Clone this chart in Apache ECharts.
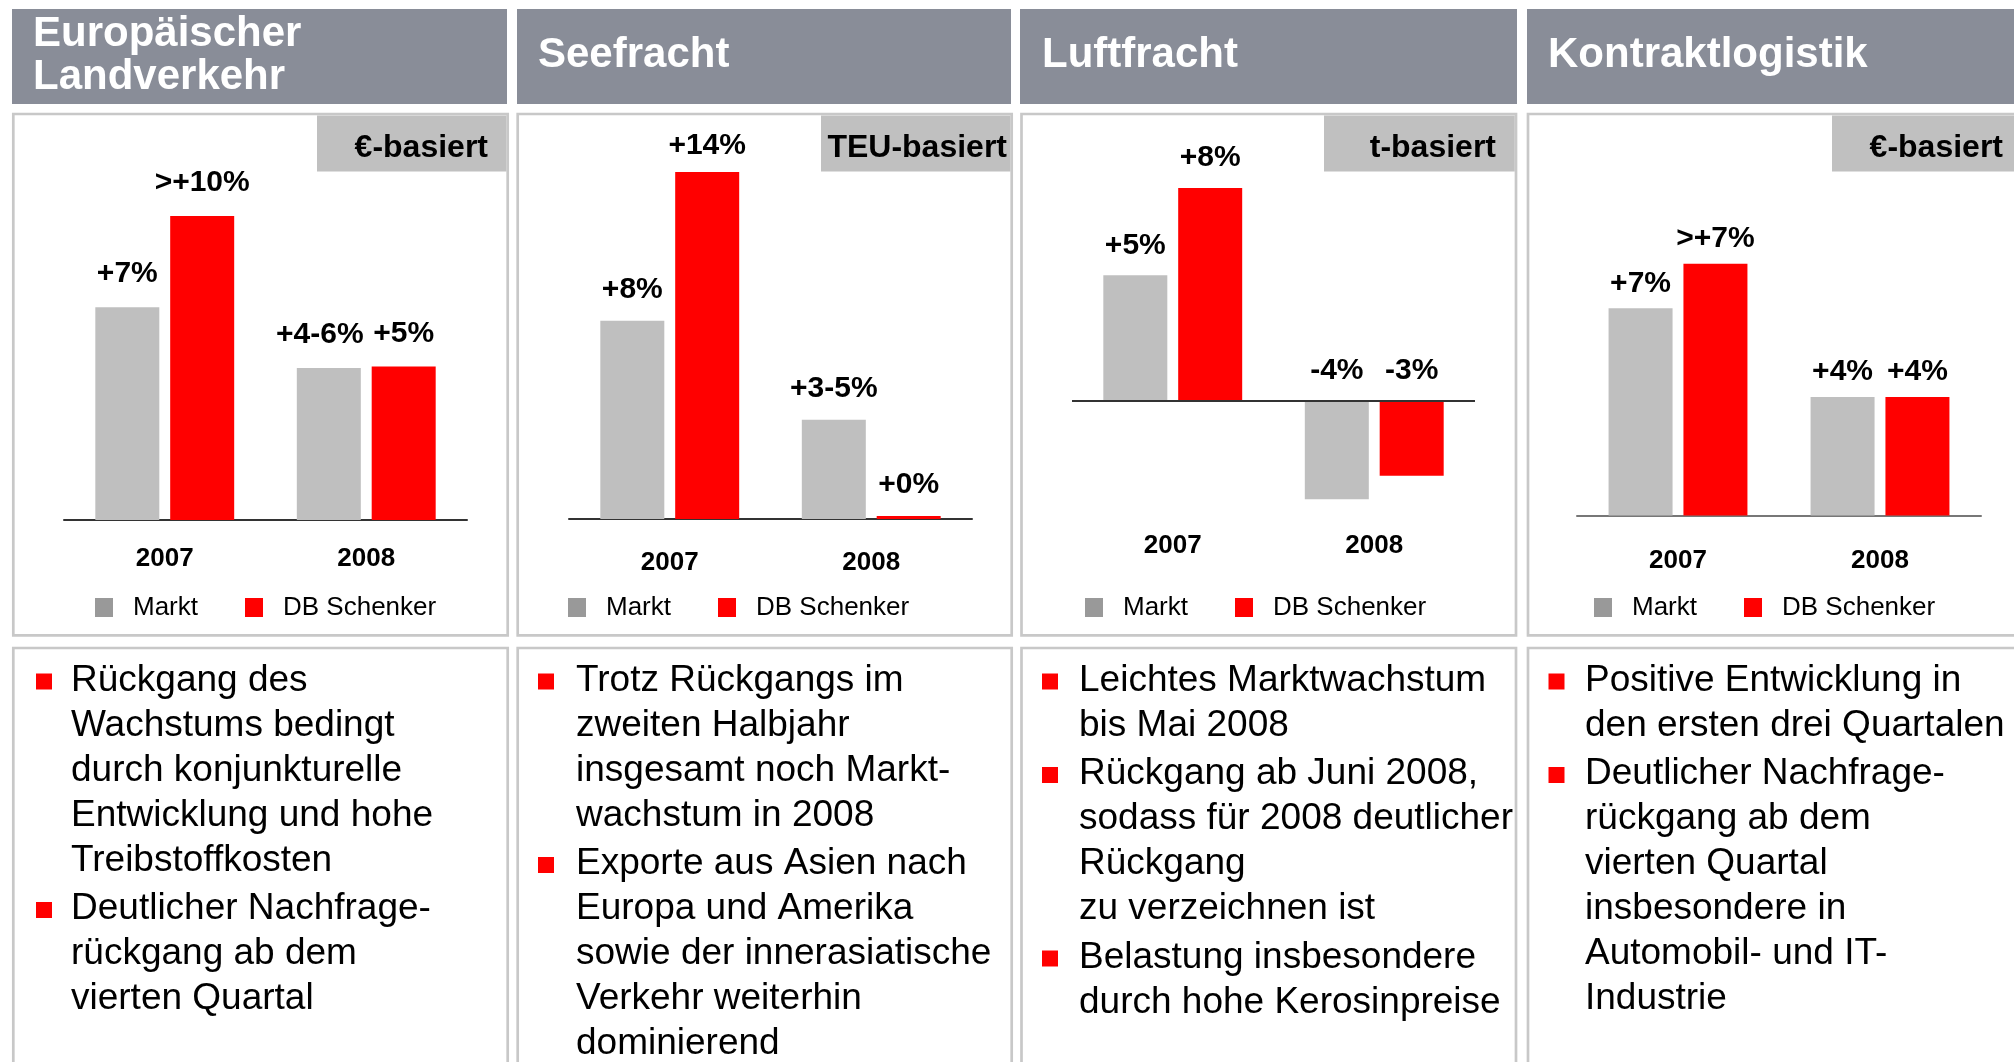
<!DOCTYPE html>
<html>
<head>
<meta charset="utf-8">
<script src="https://cdn.jsdelivr.net/npm/echarts@6/dist/echarts.min.js"></script>
<style>
html,body{margin:0;padding:0;background:#ffffff;}
#chart{width:2014px;height:1062px;}
</style>
</head>
<body>
<div id="chart"></div>
<script>
// ---------- data ----------
const categories = ['2007', '2008'];
const seriesNames = ['Markt', 'DB Schenker'];
const panelTitles = [['Europäischer', 'Landverkehr'], ['Seefracht'], ['Luftfracht'], ['Kontraktlogistik']];
const basisLabels = ['€-basiert', 'TEU-basiert', 't-basiert', '€-basiert'];

const landMarkt = [7, 5];
const landSchenker = [10, 5.05];
const landMarktLabels = ['+7%', '+4-6%'];
const landSchenkerLabels = ['>+10%', '+5%'];

const seeMarkt = [8, 4];
const seeSchenker = [14, 0.12];
const seeMarktLabels = ['+8%', '+3-5%'];
const seeSchenkerLabels = ['+14%', '+0%'];

const luftMarkt = [5.05, -3.95];
const luftSchenker = [8.55, -3];
const luftMarktLabels = ['+5%', '-4%'];
const luftSchenkerLabels = ['+8%', '-3%'];

const kontraktMarkt = [7, 4];
const kontraktSchenker = [8.5, 4];
const kontraktMarktLabels = ['+7%', '+4%'];
const kontraktSchenkerLabels = ['>+7%', '+4%'];

const landBullets = [
  ['Rückgang des', 'Wachstums bedingt', 'durch konjunkturelle', 'Entwicklung und hohe', 'Treibstoffkosten'],
  ['Deutlicher Nachfrage-', 'rückgang ab dem', 'vierten Quartal']
];
const seeBullets = [
  ['Trotz Rückgangs im', 'zweiten Halbjahr', 'insgesamt noch Markt-', 'wachstum in 2008'],
  ['Exporte aus Asien nach', 'Europa und Amerika', 'sowie der innerasiatische', 'Verkehr weiterhin', 'dominierend']
];
const luftBullets = [
  ['Leichtes Marktwachstum', 'bis Mai 2008'],
  ['Rückgang ab Juni 2008,', 'sodass für 2008 deutlicher', 'Rückgang', 'zu verzeichnen ist'],
  ['Belastung insbesondere', 'durch hohe Kerosinpreise']
];
const kontraktBullets = [
  ['Positive Entwicklung in', 'den ersten drei Quartalen'],
  ['Deutlicher Nachfrage-', 'rückgang ab dem', 'vierten Quartal', 'insbesondere in', 'Automobil- und IT-', 'Industrie']
];

const marktValues = [landMarkt, seeMarkt, luftMarkt, kontraktMarkt];
const schenkerValues = [landSchenker, seeSchenker, luftSchenker, kontraktSchenker];
const marktLabels = [landMarktLabels, seeMarktLabels, luftMarktLabels, kontraktMarktLabels];
const schenkerLabels = [landSchenkerLabels, seeSchenkerLabels, luftSchenkerLabels, kontraktSchenkerLabels];
const bullets = [landBullets, seeBullets, luftBullets, kontraktBullets];

// ---------- layout / style ----------
const FONT = '"Liberation Sans", Arial, Helvetica, sans-serif';
const HEADER_COLOR = '#898d98';
const BORDER_COLOR = '#c8c8c8';
const GRAY = '#bfbfbf';
const RED = '#ff0000';

const layout = [
  {hx0: 12, hx1: 507, bx0: 13.3, bx1: 507.7, lx0: 317, tx: 488, titleX: 33,
   gridLeft: 64, gridW: 403, gridBottom: 520, yMin: 0, yMax: 12.83, margin: 26, dist: 18,
   axisColor: '#333333', legendLeft: 95, bulletX: 36, textX: 71},
  {hx0: 517, hx1: 1011, bx0: 517.7, bx1: 1011.7, lx0: 821, tx: 1007, titleX: 538,
   gridLeft: 569, gridW: 403, gridBottom: 519, yMin: 0, yMax: 15.69, margin: 31, dist: 16,
   axisColor: '#333333', legendLeft: 568, bulletX: 538, textX: 576},
  {hx0: 1020, hx1: 1517, bx0: 1021.5, bx1: 1516, lx0: 1324, tx: 1496, titleX: 1042,
   gridLeft: 1072, gridW: 403, gridBottom: 507, yMin: -4.257, yMax: 10.884, margin: 26, dist: 15,
   axisColor: '#333333', legendLeft: 1085, bulletX: 1042, textX: 1079},
  {hx0: 1527, hx1: 2030, bx0: 1528, bx1: 2030, lx0: 1832, tx: 2003, titleX: 1548,
   gridLeft: 1577, gridW: 404, gridBottom: 515.5, yMin: 0, yMax: 13.02, margin: 32, dist: 10,
   axisColor: '#777777', legendLeft: 1594, bulletX: 1548.5, textX: 1585}
];
const GRID_TOP = 130;

const grids = [], xAxes = [], yAxes = [], series = [], legends = [], graphics = [];

layout.forEach((L, p) => {
  grids.push({left: L.gridLeft, top: GRID_TOP, width: L.gridW, height: L.gridBottom - GRID_TOP});
  xAxes.push({
    type: 'category', gridIndex: p, data: categories,
    axisTick: {show: false},
    axisLine: {show: p !== 2, onZero: false, lineStyle: {color: L.axisColor, width: 2}},
    axisLabel: {margin: L.margin, fontSize: 26, fontWeight: 'bold', color: '#000', fontFamily: FONT},
    splitLine: {show: false}
  });
  yAxes.push({type: 'value', gridIndex: p, min: L.yMin, max: L.yMax, show: false});

  const mk = (name, values, labels, color) => ({
    type: 'bar', name: name, xAxisIndex: p, yAxisIndex: p,
    data: values.slice(), barWidth: 64, barGap: '17%',
    itemStyle: {color: color},
    label: {
      show: true, position: 'top', distance: L.dist,
      fontSize: 30, fontWeight: 'bold', color: '#000', fontFamily: FONT,
      formatter: (prm) => labels[prm.dataIndex]
    },
    animation: false, silent: true
  });

  const marktSeries = mk(seriesNames[0], marktValues[p], marktLabels[p], GRAY);
  const schenkerSeries = mk(seriesNames[1], schenkerValues[p], schenkerLabels[p], RED);
  if (p === 0) {
    marktSeries.data[1] = {value: marktValues[p][1], label: {offset: [-9, 0]}};
  }
  if (p === 1) {
    schenkerSeries.data[0] = {value: schenkerValues[p][0], label: {offset: [0, 5]}};
  }
  if (p === 2) {
    marktSeries.markLine = {
      silent: true, symbol: ['none', 'none'], animation: false,
      label: {show: false},
      lineStyle: {color: '#333333', width: 2, type: 'solid'},
      data: [{yAxis: 0}]
    };
  }
  series.push(marktSeries);
  series.push(schenkerSeries);

  legends.push({
    left: L.legendLeft, top: 594.5, orient: 'horizontal', padding: 0,
    itemWidth: 18, itemHeight: 19, itemGap: 47, icon: 'rect', selectedMode: false,
    data: [{name: seriesNames[0], itemStyle: {color: '#999999'}}, {name: seriesNames[1], itemStyle: {color: RED}}],
    textStyle: {fontSize: 26, color: '#000', fontFamily: FONT, padding: [0, 0, 0, 15]}
  });

  // header bar
  graphics.push({type: 'rect', silent: true, z: 1,
    shape: {x: L.hx0, y: 9, width: L.hx1 - L.hx0, height: 95},
    style: {fill: HEADER_COLOR}});
  const tl = panelTitles[p];
  const tMid = tl.length === 2 ? [34, 77.5] : [55.5];
  tl.forEach((t, i) => graphics.push({type: 'text', silent: true, z: 2, x: L.titleX, y: tMid[i],
    style: {text: t, font: 'bold 42px ' + FONT, fill: '#ffffff', align: 'left', verticalAlign: 'middle'}}));

  // chart box
  graphics.push({type: 'rect', silent: true, z: 1,
    shape: {x: L.bx0, y: 114, width: L.bx1 - L.bx0, height: 521.3},
    style: {fill: 'none', stroke: BORDER_COLOR, lineWidth: 2.7}});
  // basis label box
  graphics.push({type: 'rect', silent: true, z: 2,
    shape: {x: L.lx0, y: 115.4, width: L.bx1 - 1.3 - L.lx0, height: 56},
    style: {fill: '#c0c0c0'}});
  graphics.push({type: 'text', silent: true, z: 3, x: L.tx, y: 148,
    style: {text: basisLabels[p], font: 'bold 32px ' + FONT, fill: '#000', align: 'right', verticalAlign: 'middle'}});

  // bullet box
  graphics.push({type: 'rect', silent: true, z: 1,
    shape: {x: L.bx0, y: 648, width: L.bx1 - L.bx0, height: 440},
    style: {fill: 'none', stroke: BORDER_COLOR, lineWidth: 2.7}});
  let line = 0;
  bullets[p].forEach((b, bi) => {
    const base0 = 693.5 + 45 * line + 3.5 * bi;
    graphics.push({type: 'rect', silent: true, z: 2,
      shape: {x: L.bulletX, y: base0 - 20, width: 16, height: 16},
      style: {fill: RED}});
    b.forEach((txt, li) => {
      const base = base0 + 45 * li;
      graphics.push({type: 'text', silent: true, z: 2, x: L.textX, y: base - 12.8,
        style: {text: txt, font: '37px ' + FONT, fill: '#000', align: 'left', verticalAlign: 'middle'}});
    });
    line += b.length;
  });
});

const chart = echarts.init(document.getElementById('chart'), null, {renderer: 'canvas'});
chart.setOption({
  backgroundColor: '#ffffff',
  animation: false,
  grid: grids,
  xAxis: xAxes,
  yAxis: yAxes,
  legend: legends,
  series: series,
  graphic: graphics
});
</script>
</body>
</html>
